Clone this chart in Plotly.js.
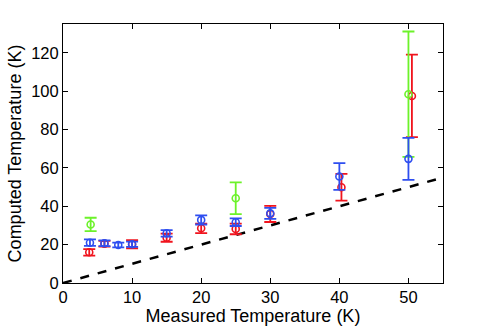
<!DOCTYPE html>
<html>
<head>
<meta charset="utf-8">
<script src="https://cdn.plot.ly/plotly-3.0.1.min.js"></script>
<style>
  html, body { margin: 0; padding: 0; background: #fff; }
  #plot { width: 489px; height: 327px; }
</style>
</head>
<body>
<div id="plot"></div>
<script>
// measured temperature (K) and computed values with error for each series
var redX   = [3.8, 6, 10, 15, 20, 25, 30, 40.3, 50.5];
var redY   = [16.0, 20.5, 20.2, 23.6, 28.5, 28.2, 36.0, 49.9, 97.5];
var redErr = [1.7, 1.5, 2.1, 2.1, 2.5, 2.8, 4.2, 7.0, 21.5];

var blueX   = [3.9, 6, 8, 10, 15, 20, 25, 30, 40, 50];
var blueY   = [21.0, 20.7, 19.8, 20.2, 25.9, 32.9, 31.7, 36.3, 55.5, 64.7];
var blueErr = [1.7, 1.5, 1.2, 1.4, 1.7, 2.4, 2.0, 2.9, 7.0, 10.9];

var greenX   = [4, 25, 50];
var greenY   = [30.5, 44.2, 98.4];
var greenErr = [3.5, 8.3, 32.7];

var idealX = [0, 55];
var idealY = [0, 55];

function series(x, y, err, color) {
    return {
        x: x,
        y: y,
        type: 'scatter',
        mode: 'markers',
        marker: {symbol: 'circle-open', size: 7, color: color, line: {width: 1.6, color: color}},
        error_y: {type: 'data', array: err, visible: true, color: color, thickness: 1.8, width: 6},
        showlegend: false,
        hoverinfo: 'skip'
    };
}

var ideal = {
    x: idealX,
    y: idealY,
    type: 'scatter',
    mode: 'lines',
    line: {color: '#000', width: 2.5, dash: 'dash'},
    showlegend: false
};

var data = [
    ideal,
    series(redX, redY, redErr, '#f0141e'),
    series(greenX, greenY, greenErr, '#6cf22a'),
    series(blueX, blueY, blueErr, '#2e4ef0')
];

var fam = 'Liberation Sans, Arial, sans-serif';
var tickFont = {family: fam, size: 16.5, color: '#000'};
var titleFont = {family: fam, size: 18, color: '#000'};

var layout = {
    width: 489,
    height: 327,
    margin: {l: 63, r: 46, t: 24, b: 44},
    paper_bgcolor: '#fff',
    plot_bgcolor: '#fff',
    font: tickFont,
    xaxis: {
        title: {text: 'Measured Temperature (K)', font: titleFont, standoff: 0},
        range: [0, 55],
        tickvals: [0, 10, 20, 30, 40, 50],
        ticks: 'inside',
        ticklen: 5,
        tickcolor: '#000',
        ticklabelstandoff: -1,
        showline: true,
        linecolor: '#000',
        linewidth: 1,
        mirror: 'ticks',
        showgrid: false,
        zeroline: false,
        tickfont: tickFont
    },
    yaxis: {
        title: {text: 'Computed Temperature (K)', font: titleFont, standoff: 4},
        range: [0, 135],
        tickvals: [0, 20, 40, 60, 80, 100, 120],
        ticks: 'inside',
        ticklen: 5,
        tickcolor: '#000',
        showline: true,
        linecolor: '#000',
        linewidth: 1,
        mirror: 'ticks',
        showgrid: false,
        zeroline: false,
        tickfont: tickFont
    }
};

Plotly.newPlot('plot', data, layout, {staticPlot: true});
</script>
</body>
</html>
